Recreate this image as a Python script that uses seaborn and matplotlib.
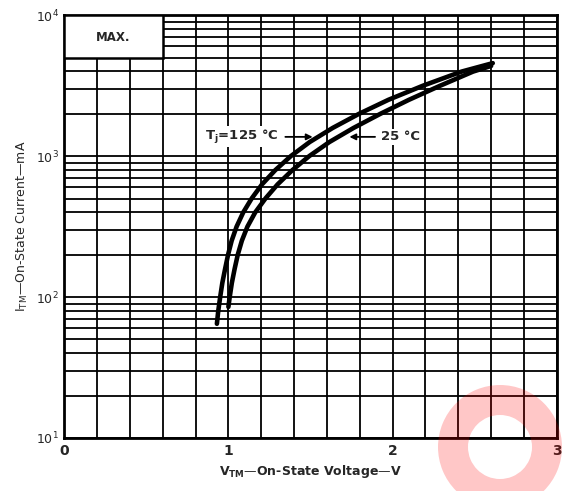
import numpy as np
import pandas as pd
import matplotlib
matplotlib.use("Agg")
import matplotlib.pyplot as plt
from matplotlib.ticker import LogLocator, MultipleLocator, FixedLocator, NullFormatter
from matplotlib.patches import Rectangle, Wedge
import seaborn as sns

# on-state characteristic (mA vs V)
i_125 = [64.6, 79.4, 100, 125.9, 158.5, 199.5, 251.2, 316.2, 398.1, 501.2, 631, 794.3,
         1000, 1259, 1585, 1995, 2512, 3162, 3981, 4571]
v_125 = [0.930, 0.938, 0.950, 0.963, 0.980, 0.998, 1.020, 1.050, 1.090, 1.142, 1.205, 1.285,
         1.380, 1.495, 1.635, 1.795, 1.975, 2.185, 2.420, 2.610]
i_25 = [85.1, 100, 125.9, 158.5, 199.5, 251.2, 316.2, 398.1, 501.2, 631, 794.3,
        1000, 1259, 1585, 1995, 2512, 3162, 3981, 4365]
v_25 = [1.000, 1.008, 1.021, 1.038, 1.057, 1.082, 1.116, 1.163, 1.226, 1.300, 1.389,
        1.492, 1.615, 1.762, 1.925, 2.100, 2.290, 2.490, 2.600]

x_ticks = [0, 1, 2, 3]
y_ticks = [10, 100, 1000, 10000]
y_labels = ["$10^1$", "$10^2$", "$10^3$", "$10^4$"]

df = pd.concat([
    pd.DataFrame({"V": v_125, "I": i_125, "Tj": "125"}),
    pd.DataFrame({"V": v_25, "I": i_25, "Tj": "25"}),
])

sns.set_style("white")
plt.rcParams["font.family"] = ["DejaVu Sans"]

fig = plt.figure(figsize=(5.63, 4.91), dpi=100)
ax = fig.add_axes([0.114, 0.108, 0.875, 0.861])

sns.lineplot(data=df, x="V", y="I", hue="Tj", palette={"125": "black", "25": "black"},
             linewidth=3.3, sort=False, legend=False, ax=ax, zorder=5)

ax.set_yscale("log")
ax.set_xlim(0, 3)
ax.set_ylim(10, 10000)

ax.xaxis.set_major_locator(FixedLocator(x_ticks))
ax.xaxis.set_minor_locator(MultipleLocator(0.2))
ax.yaxis.set_major_locator(FixedLocator(y_ticks))
ax.yaxis.set_minor_locator(LogLocator(base=10, subs=np.arange(2, 10)))
ax.yaxis.set_minor_formatter(NullFormatter())
ax.set_xticklabels([str(t) for t in x_ticks], fontsize=10, fontweight="bold")
ax.set_yticklabels(y_labels, fontsize=9)
ax.tick_params(which="both", length=0, pad=4)

ax.grid(which="both", color="black", linewidth=1.3)
ax.set_axisbelow(True)
for s in ax.spines.values():
    s.set_color("black")
    s.set_linewidth(2)

# MAX. box in the top left corner
ax.add_patch(Rectangle((0, 5000), 0.6, 5000, facecolor="white", edgecolor="black",
                       linewidth=1.8, zorder=3))
ax.text(0.3, 7000, "MAX.", ha="center", va="center", fontsize=8.5, fontweight="bold", zorder=4)

# curve labels
ax.annotate("", xy=(1.53, 1370), xytext=(1.33, 1370),
            arrowprops=dict(arrowstyle="-|>", color="black", lw=1.3, mutation_scale=9), zorder=6)
ax.text(0.86, 1370, "$\\mathregular{T_j}$=125 °C", ha="left", va="center", fontsize=9.5,
        fontweight="bold", bbox=dict(facecolor="white", edgecolor="none", pad=1), zorder=4)
ax.annotate("", xy=(1.72, 1370), xytext=(1.91, 1370),
            arrowprops=dict(arrowstyle="-|>", color="black", lw=1.3, mutation_scale=9), zorder=6)
ax.text(1.93, 1370, "25 °C", ha="left", va="center", fontsize=9.5, fontweight="bold",
        bbox=dict(facecolor="white", edgecolor="none", pad=1), zorder=4)

ax.set_xlabel("$\\mathregular{V_{TM}}$—On-State Voltage—V", fontsize=9, fontweight="bold")
ax.set_ylabel("$\\mathregular{I_{TM}}$—On-State Current—mA", fontsize=9)

# faint red watermark ring at the bottom right
fig.patches.append(Wedge((5.0, 0.44), 0.62, 0, 360, width=0.3, transform=fig.dpi_scale_trans,
                         facecolor="red", edgecolor="none", alpha=0.22, zorder=10))

fig.savefig("out.png", dpi=100)
